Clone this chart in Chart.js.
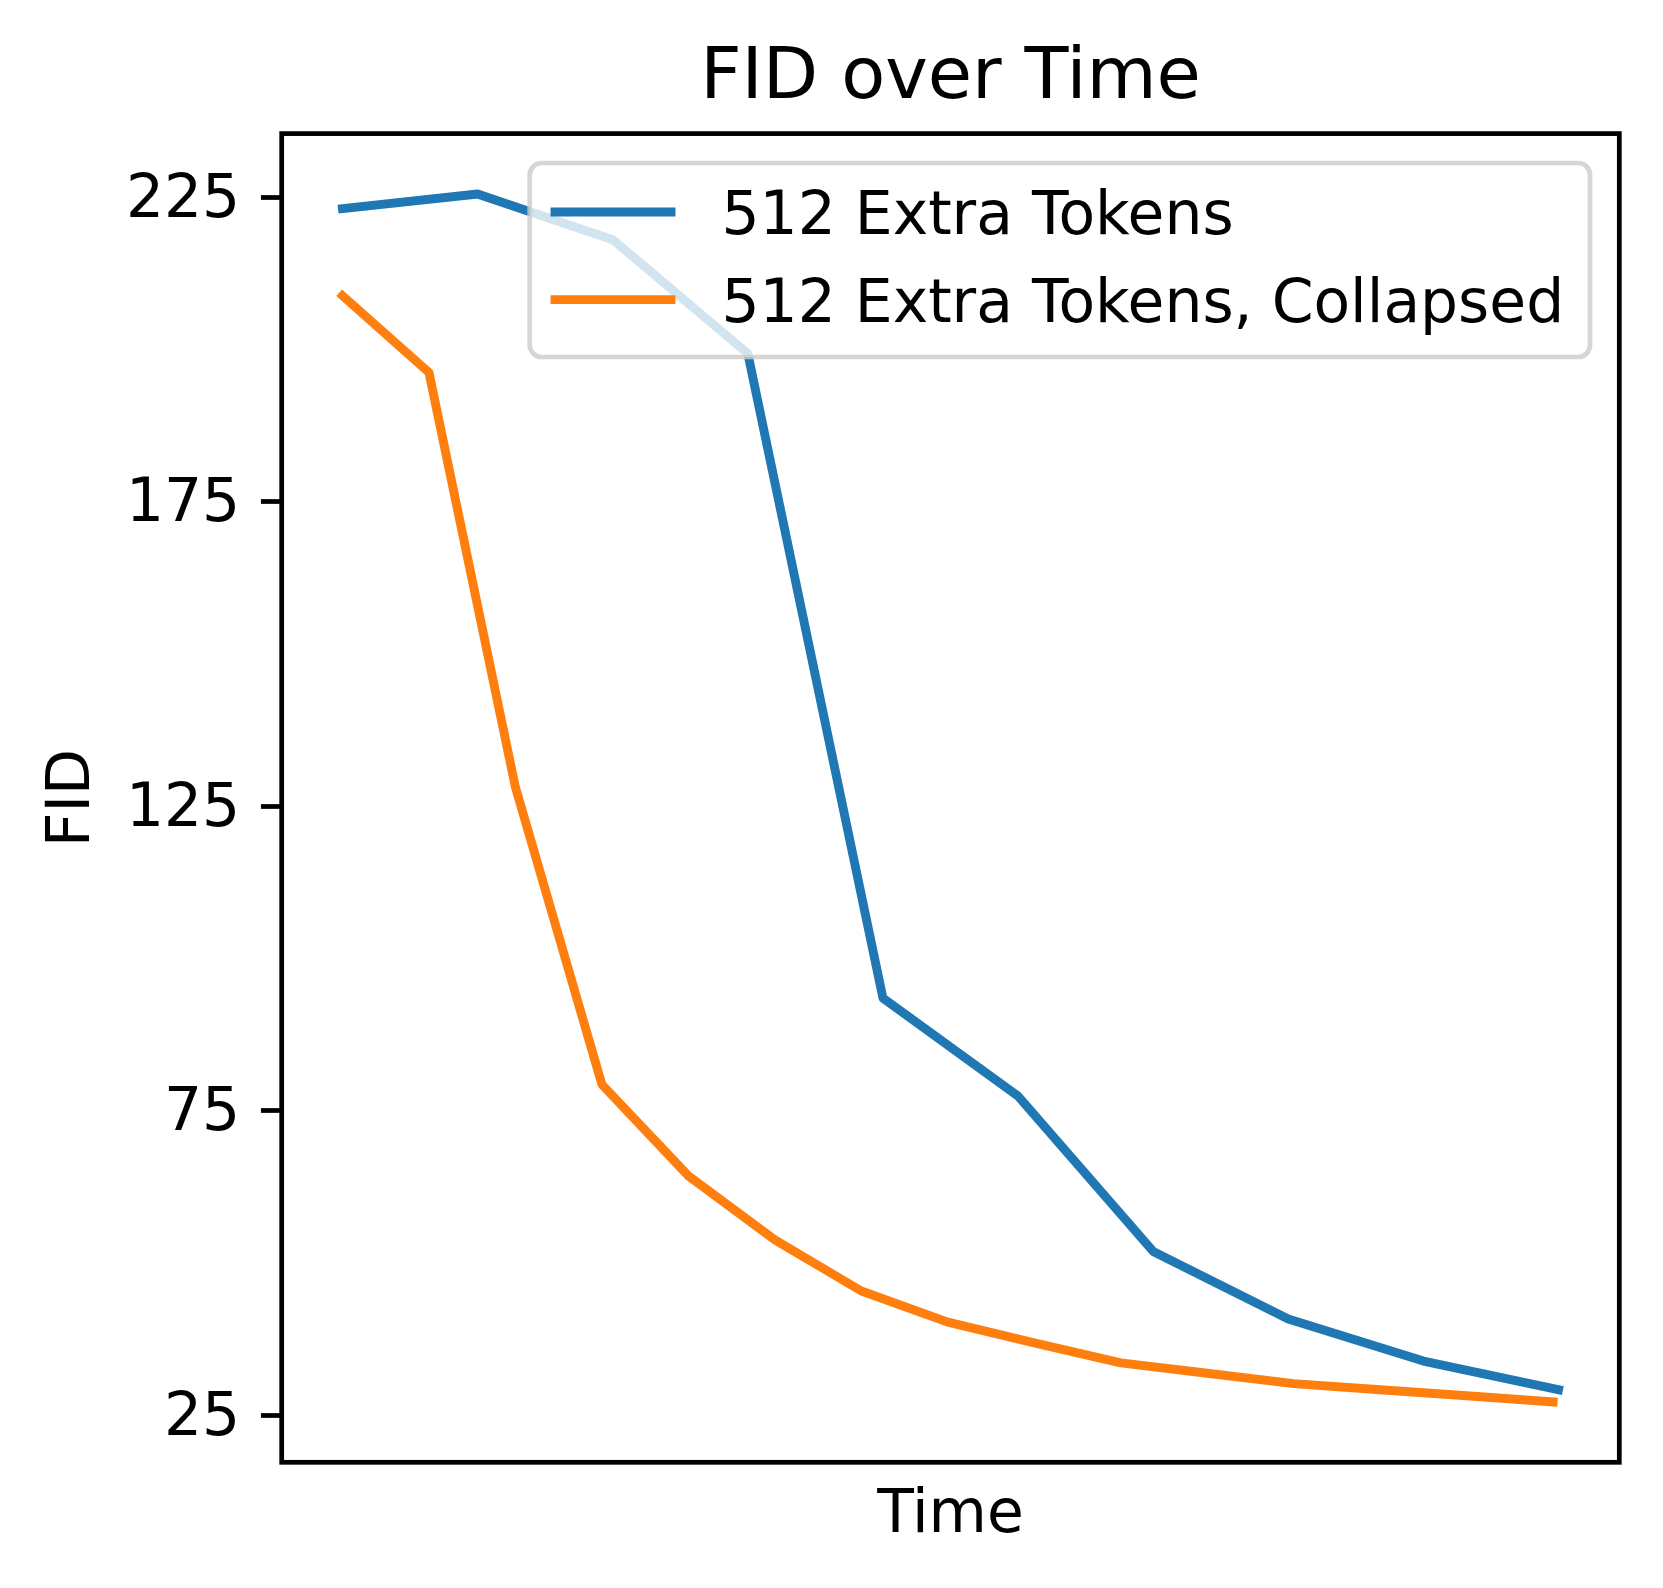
<!DOCTYPE html>
<html>
<head>
<meta charset="utf-8">
<title>FID over Time</title>
<script src="https://cdn.jsdelivr.net/npm/chart.js@4.4.1/dist/chart.umd.min.js"></script>
<style>
  html, body { margin: 0; padding: 0; background: #ffffff; }
  #chart { display: block; }
</style>
</head>
<body>
<canvas id="chart" width="1663" height="1588"></canvas>
<script>
// Values
var seriesLabels = ["512 Extra Tokens", "512 Extra Tokens, Collapsed"];
var extraTime = [0, 25, 50, 75, 100, 125, 150, 175, 200, 225];
var extraFid = [223.1, 225.5, 218.0, 199.3, 93.5, 77.4, 51.9, 40.8, 33.9, 29.2];
var collapsedTime = [0, 16, 32, 48, 64, 80, 96, 112, 128, 144, 160, 176, 192, 208, 224];
var collapsedFid = [208.8, 196.2, 128.1, 79.3, 64.3, 53.8, 45.4, 40.3, 36.9, 33.6, 31.9, 30.2, 29.2, 28.2, 27.2];
var yTicks = [25, 75, 125, 175, 225];

var colors = ["#1f77b4", "#ff7f0e"];
var FONT = "'DejaVu Sans', 'Liberation Sans', sans-serif";
var fontSize = 59.9;
var titleSize = 72;
var lineW = 8.9;
var spineW = 4.74;
var tickLen = 20.75;

// axes box in canvas pixels
var axLeft = 281.7, axRight = 1619.3, axTop = 133.6, axBottom = 1462.3;

function toPoints(xs, ys) {
  var pts = [];
  for (var i = 0; i < xs.length; i++) {
    pts.push({ x: xs[i], y: ys[i] });
  }
  return pts;
}

// matplotlib style autoscale: data range plus 5% each side
function paddedRange(values) {
  var lo = Math.min.apply(null, values);
  var hi = Math.max.apply(null, values);
  var m = (hi - lo) * 0.05;
  return [lo - m, hi + m];
}

var xRange = paddedRange(extraTime.concat(collapsedTime));
var yRange = paddedRange(extraFid.concat(collapsedFid));

var framePlugin = {
  id: "framePlugin",
  afterDatasetsDraw: function (chart) {
    var ctx = chart.ctx;
    var a = chart.chartArea;
    ctx.save();

    // spines
    ctx.strokeStyle = "#000000";
    ctx.lineWidth = spineW;
    ctx.lineJoin = "miter";
    ctx.strokeRect(a.left, a.top, a.right - a.left, a.bottom - a.top);

    // legend box
    var bx = 529.7, by = 163.0, bw = 1060.3, bh = 194.0;
    ctx.beginPath();
    ctx.roundRect(bx, by, bw, bh, 11.9);
    ctx.fillStyle = "rgba(255,255,255,0.8)";
    ctx.fill();
    ctx.strokeStyle = "rgba(204,204,204,0.8)";
    ctx.lineWidth = spineW;
    ctx.stroke();

    ctx.font = fontSize + "px " + FONT;
    ctx.textAlign = "left";
    ctx.textBaseline = "alphabetic";
    chart.data.datasets.forEach(function (ds, i) {
      var hy = 212 + i * 87.6;
      ctx.beginPath();
      ctx.moveTo(555, hy);
      ctx.lineTo(671, hy);
      ctx.strokeStyle = ds.borderColor;
      ctx.lineWidth = lineW;
      ctx.lineCap = "square";
      ctx.stroke();
      ctx.fillStyle = "#000000";
      ctx.fillText(ds.label, 721.5, 233.5 + i * 88);
    });
    ctx.restore();
  },
  afterDraw: function (chart) {
    var ctx = chart.ctx;
    var a = chart.chartArea;
    var cx = (a.left + a.right) / 2;
    var cy = (a.top + a.bottom) / 2;
    ctx.save();
    ctx.fillStyle = "#000000";
    ctx.textAlign = "center";
    ctx.textBaseline = "alphabetic";

    ctx.font = titleSize + "px " + FONT;
    ctx.fillText("FID over Time", cx, a.top - 35.6);

    ctx.font = fontSize + "px " + FONT;
    ctx.fillText("Time", cx, 1531.5);

    ctx.translate(89, cy);
    ctx.rotate(-Math.PI / 2);
    ctx.fillText("FID", 0, 0);
    ctx.restore();
  }
};

var chart = new Chart(document.getElementById("chart"), {
  type: "line",
  data: {
    datasets: [
      {
        label: seriesLabels[0],
        data: toPoints(extraTime, extraFid),
        borderColor: colors[0],
        backgroundColor: colors[0],
        borderWidth: lineW,
        borderCapStyle: "square",
        borderJoinStyle: "round",
        pointRadius: 0,
        tension: 0,
        fill: false
      },
      {
        label: seriesLabels[1],
        data: toPoints(collapsedTime, collapsedFid),
        borderColor: colors[1],
        backgroundColor: colors[1],
        borderWidth: lineW,
        borderCapStyle: "square",
        borderJoinStyle: "round",
        pointRadius: 0,
        tension: 0,
        fill: false
      }
    ]
  },
  options: {
    responsive: false,
    animation: false,
    devicePixelRatio: 1,
    layout: {
      padding: { left: 0, right: 1663 - axRight, top: axTop, bottom: 0 }
    },
    plugins: {
      legend: { display: false },
      title: { display: false },
      tooltip: { enabled: false }
    },
    scales: {
      x: {
        type: "linear",
        min: xRange[0],
        max: xRange[1],
        ticks: { display: false },
        grid: { display: false },
        border: { display: false },
        afterFit: function (scale) {
          scale.height = 1588 - axBottom;
        }
      },
      y: {
        type: "linear",
        min: yRange[0],
        max: yRange[1],
        afterBuildTicks: function (scale) {
          scale.ticks = yTicks.map(function (v) {
            return { value: v };
          });
        },
        afterFit: function (scale) {
          scale.width = axLeft;
        },
        ticks: {
          color: "#000000",
          padding: tickLen,
          labelOffset: 4,
          font: { family: FONT, size: fontSize }
        },
        grid: {
          display: true,
          drawOnChartArea: false,
          drawTicks: true,
          tickLength: tickLen,
          tickWidth: spineW,
          tickColor: "#000000"
        },
        border: { display: false }
      }
    }
  },
  plugins: [framePlugin]
});
</script>
</body>
</html>
